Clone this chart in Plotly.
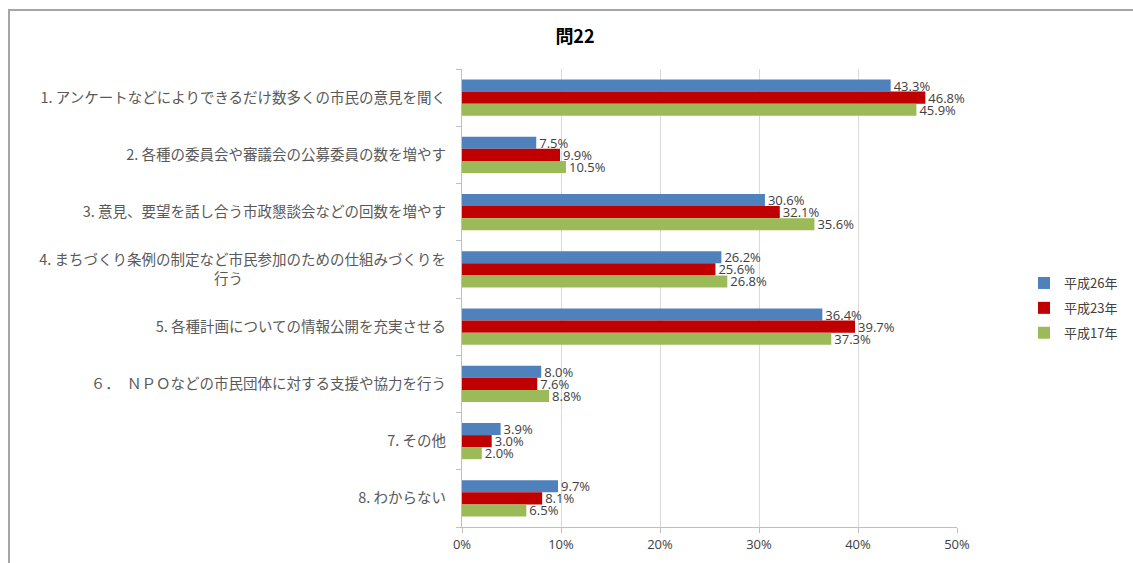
import plotly.graph_objects as go

categories = [
    "1. アンケートなどによりできるだけ数多くの市民の意見を聞く",
    "2. 各種の委員会や審議会の公募委員の数を増やす",
    "3. 意見、要望を話し合う市政懇談会などの回数を増やす",
    "4. まちづくり条例の制定など市民参加のための仕組みづくりを",
    "5. 各種計画についての情報公開を充実させる",
    "６．　ＮＰＯなどの市民団体に対する支援や協力を行う",
    "7. その他",
    "8. わからない",
]
tick_labels = [
    "1. アンケートなどによりできるだけ数多くの市民の意見を聞く",
    "2. 各種の委員会や審議会の公募委員の数を増やす",
    "3. 意見、要望を話し合う市政懇談会などの回数を増やす",
    "4. まちづくり条例の制定など市民参加のための仕組みづくりを<br>行う" + "\u3000" * 14,
    "5. 各種計画についての情報公開を充実させる",
    "６．　ＮＰＯなどの市民団体に対する支援や協力を行う",
    "7. その他",
    "8. わからない",
]
series_names = ["平成26年", "平成23年", "平成17年"]
h26 = [43.3, 7.5, 30.6, 26.2, 36.4, 8.0, 3.9, 9.7]
h23 = [46.8, 9.9, 32.1, 25.6, 39.7, 7.6, 3.0, 8.1]
h17 = [45.9, 10.5, 35.6, 26.8, 37.3, 8.8, 2.0, 6.5]
x_ticks = [0, 10, 20, 30, 40, 50]
x_tick_labels = ["0%", "10%", "20%", "30%", "40%", "50%"]

colors = ["#4F81BD", "#C00000", "#9BBB59"]
label_font = dict(family="Open Sans, Liberation Sans, sans-serif", size=13, color="#404040")

fig = go.Figure()
for name, vals, col in zip(series_names, [h26, h23, h17], colors):
    fig.add_trace(go.Bar(
        y=categories, x=vals, name=name, orientation="h", legendgroup=name,
        marker=dict(color=col, line=dict(width=0)),
        text=[f"{v:.1f}%" for v in vals], textposition="outside",
        textfont=label_font, cliponaxis=False, constraintext="none",
    ))

W, H = 1133, 563
L, R, T, B = 462, 957, 69, 527
fig.update_layout(
    width=W, height=H,
    margin=dict(l=L, r=W - R, t=T, b=H - B, pad=0, autoexpand=False),
    paper_bgcolor="white", plot_bgcolor="white",
    barmode="group", bargap=0.37, bargroupgap=0,
    title=dict(text="<b>問22</b>", x=(575) / W, xanchor="center",
               y=1 - 37 / H, yanchor="middle", yref="container",
               font=dict(family="Noto Sans CJK JP", size=18, color="#000000")),
    legend=dict(x=(1024 - L) / (R - L), xanchor="left",
                y=(B - 308) / (B - T), yanchor="middle",
                font=dict(family="Noto Sans CJK JP", size=13, color="#404040"),
                itemwidth=30, tracegroupgap=5, bgcolor="rgba(0,0,0,0)"),
    showlegend=True,
    font=dict(family="Noto Sans CJK JP"),
)
fig.update_xaxes(
    range=[0, 50], tickvals=x_ticks, ticktext=x_tick_labels,
    showgrid=True, gridcolor="#D9D9D9", gridwidth=1,
    showline=True, linecolor="#BFBFBF", linewidth=1,
    ticks="outside", ticklen=5, tickcolor="#BFBFBF",
    tickfont=dict(family="Open Sans, Liberation Sans, sans-serif", size=13, color="#404040"),
    zeroline=False, fixedrange=True, automargin=False,
)
fig.update_yaxes(
    autorange="reversed", tickvals=categories, ticktext=tick_labels,
    showline=True, linecolor="#BFBFBF", linewidth=1,
    ticks="outside", ticklen=5, tickcolor="#BFBFBF", tickson="boundaries",
    tickfont=dict(family="Noto Sans CJK JP", size=14.5, color="#595959"),
    ticklabelstandoff=12,
    showgrid=False, fixedrange=True, automargin=False,
)
# chart frame border (top and left visible)
fig.add_shape(type="rect", xref="paper", yref="paper",
              x0=(9 - L) / (R - L), x1=(1140 - L) / (R - L),
              y0=(B - 570) / (B - T), y1=(B - 10) / (B - T),
              line=dict(color="#A6A6A6", width=2), fillcolor="rgba(0,0,0,0)", layer="below")

fig.write_html("out.html", config={"displayModeBar": False},
               post_script="document.body.style.margin='0';")
